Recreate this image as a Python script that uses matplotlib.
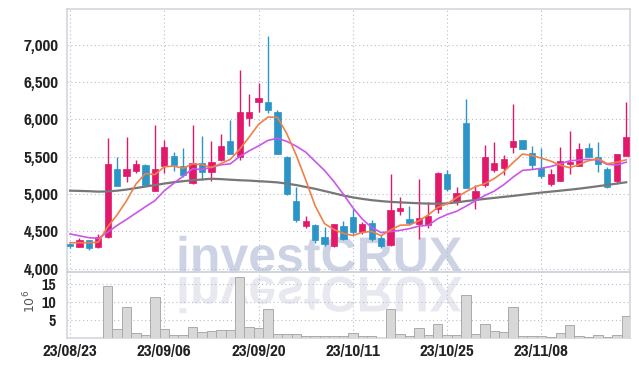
import matplotlib
matplotlib.use("Agg")
import matplotlib.pyplot as plt
from matplotlib import font_manager as fm
from matplotlib.textpath import TextPath
from matplotlib.patches import PathPatch
from matplotlib.font_manager import FontProperties
from matplotlib.transforms import Affine2D, IdentityTransform

# daily candles, 23/08/23 .. 23/11/21
opens = [4335, 4295, 4385, 4285, 4420, 5335, 5245, 5310, 5390, 5045,
         5370, 5505, 5370, 5150, 5410, 5290, 5455, 5715, 5495, 6025,
         6240, 6240, 6100, 5500, 4910, 4575, 4590, 4420, 4300, 4565,
         4690, 4495, 4615, 4410, 4315, 4775, 4670, 4600, 4590, 4795,
         5275, 4895, 5950, 4935, 5120, 5325, 5350, 5635, 5725, 5550,
         5345, 5140, 5180, 5405, 5370, 5615, 5490, 5335, 5180, 5515]
highs = [4345, 4405, 4390, 4465, 5750, 5490, 5760, 5450, 5400, 5925,
         5720, 5560, 5620, 5920, 5775, 5710, 5800, 5990, 6660, 6340,
         6485, 7120, 6130, 5505, 5095, 4700, 4600, 4555, 4605, 4640,
         4800, 4630, 4650, 4445, 5265, 4960, 4835, 5195, 4890, 5300,
         5320, 5090, 6280, 5125, 5655, 5695, 5520, 6205, 5725, 5650,
         5620, 5330, 5635, 5840, 5680, 5680, 5700, 5365, 5540, 6235]
lows = [4270, 4290, 4250, 4280, 4410, 5110, 5165, 5280, 5120, 5040,
        5280, 5305, 5225, 5140, 5190, 5175, 5440, 5540, 5455, 5915,
        6095, 6085, 5530, 4990, 4625, 4545, 4350, 4305, 4295, 4385,
        4450, 4465, 4375, 4280, 4310, 4720, 4580, 4395, 4545, 4740,
        5045, 4850, 5080, 4805, 5100, 5290, 5250, 5555, 5605, 5335,
        5215, 5110, 5175, 5275, 5370, 5495, 5290, 5085, 5140, 5510]
closes = [4300, 4390, 4280, 4430, 5400, 5110, 5335, 5400, 5125, 5335,
          5630, 5385, 5250, 5420, 5290, 5430, 5645, 5540, 6100, 6100,
          6285, 6130, 5530, 4995, 4655, 4640, 4390, 4335, 4600, 4400,
          4495, 4600, 4400, 4310, 4785, 4815, 4615, 4680, 4705, 5285,
          5065, 5020, 5085, 5035, 5490, 5410, 5465, 5710, 5605, 5390,
          5235, 5265, 5440, 5435, 5600, 5495, 5400, 5100, 5535, 5765]
volume = [0.1, 0.1, 0.1, 0.1, 14.3, 2.5, 8.6, 1.4, 0.8, 11.4,
          2.5, 0.8, 0.8, 3.0, 1.6, 1.9, 2.2, 2.2, 16.8, 3.0,
          2.8, 8.1, 1.1, 1.1, 1.1, 0.5, 0.5, 0.5, 0.5, 0.5,
          1.4, 0.5, 0.5, 0.1, 8.1, 1.1, 0.5, 2.8, 0.8, 4.0,
          0.8, 0.8, 11.8, 1.1, 4.0, 2.0, 1.7, 8.6, 0.6, 0.6,
          0.6, 0.3, 1.3, 3.6, 0.6, 0.3, 0.9, 0.3, 0.9, 6.1]

# moving averages as drawn (5 / 10 / 60 days)
ma5 = [4347, 4347, 4347, 4355, 4560, 4722, 4911, 5135, 5274, 5261,
       5365, 5375, 5345, 5404, 5395, 5355, 5407, 5465, 5601, 5763,
       5934, 6031, 6029, 5808, 5519, 5190, 4842, 4603, 4524, 4473,
       4444, 4486, 4499, 4441, 4518, 4582, 4585, 4641, 4720, 4820,
       4870, 4951, 5032, 5098, 5139, 5208, 5297, 5422, 5536, 5516,
       5481, 5441, 5387, 5353, 5395, 5447, 5474, 5406, 5426, 5459]
ma10 = [4465, 4440, 4415, 4405, 4490, 4580, 4660, 4745, 4830, 4911,
        5044, 5143, 5240, 5339, 5328, 5360, 5391, 5405, 5503, 5579,
        5645, 5719, 5747, 5705, 5641, 5562, 5437, 5316, 5166, 4996,
        4817, 4664, 4551, 4483, 4496, 4513, 4536, 4570, 4581, 4669,
        4726, 4768, 4837, 4909, 4980, 5039, 5124, 5227, 5317, 5328,
        5345, 5369, 5405, 5445, 5456, 5464, 5458, 5397, 5390, 5427]
ma60 = [5045, 5042, 5038, 5032, 5035, 5045, 5060, 5080, 5100, 5120,
        5140, 5158, 5172, 5185, 5195, 5205, 5200, 5192, 5185, 5180,
        5172, 5165, 5156, 5140, 5120, 5095, 5070, 5040, 5010, 4980,
        4955, 4935, 4918, 4905, 4895, 4888, 4882, 4876, 4872, 4870,
        4875, 4888, 4905, 4920, 4935, 4948, 4962, 4975, 4990, 5005,
        5020, 5032, 5045, 5058, 5072, 5088, 5105, 5122, 5140, 5158]

date_pos = [0, 10, 20, 30, 40, 50]
date_labels = ["23/08/23", "23/09/06", "23/09/20", "23/10/11", "23/10/25", "23/11/08"]
price_ticks = [4000, 4500, 5000, 5500, 6000, 6500, 7000]
vol_ticks = [5, 10, 15]

UP, DOWN = "#e2196b", "#2c95c7"
GRID = "#b6bdd3"
SPINE = "#cfd3dc"


def narrow_font(size):
    # look for a condensed / narrow bold face, otherwise plain DejaVu
    files = [f.fname for f in fm.fontManager.ttflist]
    for key in ("Narrow-Bold", "NarrowBold", "Condensed-Bold", "CondensedBold",
                "Narrow", "Condensed"):
        hits = sorted(p for p in files if key in p.split("/")[-1]
                      and "Oblique" not in p and "Italic" not in p)
        if hits:
            return FontProperties(fname=hits[0], size=size)
    return FontProperties(family="DejaVu Sans", size=size - 2.5)


W, H = 639, 366
fig = plt.figure(figsize=(W / 100, H / 100), dpi=100)
axp = fig.add_axes([67 / W, 1 - 272 / H, 563 / W, 263 / H])
axv = fig.add_axes([67 / W, 1 - 338 / H, 563 / W, 66 / H], sharex=axp)

# watermark + mirrored copy, behind the axes
fp = FontProperties(family="Liberation Sans", weight="bold")
tp = TextPath((0, 0), "investCRUX", size=50, prop=fp)
wm = PathPatch(tp, transform=Affine2D().translate(176, H - 272) + IdentityTransform(),
               facecolor="#cdd3e5", edgecolor="none", zorder=-2)
wm2 = PathPatch(tp, transform=Affine2D().scale(1, -1).translate(176, H - 277) + IdentityTransform(),
                facecolor="#e8e8f1", edgecolor="none", zorder=-2)
fig.patches.extend([wm, wm2])

x = list(range(len(closes)))
colors = [UP if c >= o else DOWN for o, c in zip(opens, closes)]
bottoms = [min(o, c) for o, c in zip(opens, closes)]
heights = [max(abs(c - o), 12) for o, c in zip(opens, closes)]

axp.vlines(x, lows, highs, colors=colors, linewidth=1.0, zorder=2)
axp.bar(x, heights, bottom=bottoms, width=0.66, color=colors,
        edgecolor=colors, linewidth=0.5, zorder=3)
axp.plot(x, ma60, color="#777777", lw=1.6, zorder=4)
axp.plot(x, ma10, color="#cc55ea", lw=1.2, zorder=4)
axp.plot(x, ma5, color="#ef8048", lw=1.2, zorder=4)

axv.bar(x, volume, width=1.0, color="#d8d8d8", edgecolor="#ababab",
        linewidth=0.7, zorder=3)

for ax in (axp, axv):
    ax.set_facecolor("none")
    ax.set_axisbelow(True)
    ax.grid(True, linestyle=(0, (1, 2.5)), color=GRID, linewidth=0.8)
    for s in ax.spines.values():
        s.set_color(SPINE)
        s.set_linewidth(1.1)
    ax.tick_params(length=0, labelcolor="#222222")

price_fp = narrow_font(13.5)
date_fp = narrow_font(13.5)
vol_fp = narrow_font(12.5)

axp.set_xlim(-0.32, 59.4)
axp.set_ylim(3955, 7480)
axp.set_yticks(price_ticks)
axp.set_yticklabels([f"{v:,}" for v in price_ticks], fontproperties=price_fp)
axp.tick_params(axis="y", pad=6)
axp.tick_params(axis="x", labelbottom=False)

axv.set_ylim(0, 18.3)
axv.set_yticks(vol_ticks)
axv.set_yticklabels([str(v) for v in vol_ticks], fontproperties=vol_fp)
axv.tick_params(axis="y", pad=8)
axv.set_xticks(date_pos)
axv.set_xticklabels(date_labels, fontproperties=date_fp)
axv.tick_params(axis="x", pad=4)

fig.text(30 / W, 1 - 301 / H, r"$10^6$", rotation=90, ha="center", va="center",
         fontsize=9, color="#555555")

fig.savefig("out.png", dpi=100, facecolor="white")
